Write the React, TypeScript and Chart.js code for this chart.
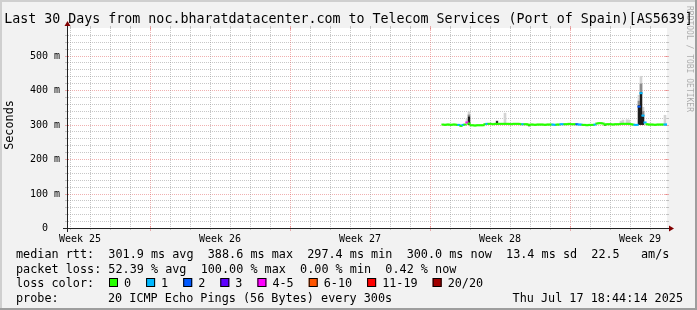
import React, { useEffect, useRef } from "react";
import { Chart, registerables } from "chart.js";

Chart.register(...registerables);

// ---------- text ----------
const chartTitle = "Last 30 Days from noc.bharatdatacenter.com to Telecom Services (Port of Spain)[AS5639]";
const yAxisTitle = "Seconds";
const watermark = "RRDTOOL / TOBI OETIKER";
const legendRttLine = "median rtt:  301.9 ms avg  388.6 ms max  297.4 ms min  300.0 ms now  13.4 ms sd  22.5   am/s";
const legendLossLine = "packet loss: 52.39 % avg  100.00 % max  0.00 % min  0.42 % now";
const legendLossTitle = "loss color:";
const probeLabel = "probe:";
const probeText = "20 ICMP Echo Pings (56 Bytes) every 300s";
const dateText = "Thu Jul 17 18:44:14 2025";

// ---------- axes ----------
const yTickValues = [0, 100, 200, 300, 400, 500];
const yMinorStep = 20;
const yMax = 580;
const xMaxDays = 30;
const weekLabels = ["Week 25", "Week 26", "Week 27", "Week 28", "Week 29"];
const weekLabelDays = [0.65, 7.65, 14.65, 21.65, 28.65];
const weekLineDays = [4.15, 11.15, 18.15, 25.15];
const dayLineDays = [
  0.15, 1.15, 2.15, 3.15, 5.15, 6.15, 7.15, 8.15, 9.15, 10.15, 12.15, 13.15, 14.15,
  15.15, 16.15, 17.15, 19.15, 20.15, 21.15, 22.15, 23.15, 24.15, 26.15, 27.15, 28.15, 29.15,
];

// ---------- loss legend ----------
const lossLegendLabels = ["0", "1", "2", "3", "4-5", "6-10", "11-19", "20/20"];
const lossLegendColors = ["#26ff00", "#00b8ff", "#0059ff", "#5e00ff", "#ff00ff", "#ff5500", "#ff0000", "#a00000"];

// ---------- series (ms) ----------
const sampleStartDay = 18.8;
const sampleStepDay = 0.1;
const medianMs = [
  300, 299, 300, 300, 299, 300, 300, 299,
  299, 296, 299, 300, 306, 303,
  298, 298, 297, 298, 298, 298, 298,
  301, 302, 302, 302, 301, 302,
  302, 302, 302, 302,
  302, 302, 302, 301, 302, 302, 302, 302, 301,
  301, 301, 301, 299,
  300, 300, 299, 300, 300, 300, 300, 299, 300, 300, 300,
  300, 299, 300, 300,
  301, 301, 301, 301, 302, 301, 301, 301,
  301, 300, 300,
  299, 299, 298, 299, 299, 299, 300,
  303, 304, 304, 303, 300,
  301, 301, 301, 300, 301, 301, 301,
  302, 302, 302, 302, 302, 301, 300,
  299, 299, 352, 391, 326, 306, 301,
  300, 300, 300, 299, 300, 300, 300, 300, 300, 300,
];
const lossCount = [
  0, 0, 0, 0, 0, 0, 0, 0,
  1, 0, 1, 0, 4, 0,
  0, 0, 0, 0, 0, 0, 0,
  0, 1, 0, 0, 0, 0,
  0, 0, 0, 0,
  0, 0, 0, 0, 0, 0, 0, 0, 0,
  1, 0, 0, 0,
  0, 0, 0, 0, 0, 0, 0, 0, 0, 0, 0,
  1, 1, 0, 0,
  1, 1, 0, 0, 0, 0, 0, 0,
  2, 1, 1,
  0, 0, 0, 0, 0, 0, 1,
  0, 0, 0, 0, 0,
  0, 0, 0, 0, 0, 0, 0,
  0, 0, 0, 0, 0, 0, 0,
  1, 1, 2, 1, 1, 1, 0,
  0, 0, 0, 0, 0, 0, 0, 0, 1, 1,
];

// smoke (spread of the 20 pings)
const lightSmokeDays = [20.0, 20.1, 21.5, 21.9, 27.7, 27.8, 28.0, 28.1, 28.6, 28.7, 28.8, 29.9];
const lightSmokeLow = [300, 300, 300, 300, 300, 300, 300, 300, 300, 300, 300, 300];
const lightSmokeHigh = [315, 337, 312, 333, 310, 313, 314, 313, 385, 440, 350, 327];
const midSmokeDays = [20.1, 28.6, 28.7, 28.8];
const midSmokeLow = [300, 300, 300, 300];
const midSmokeHigh = [328, 368, 418, 338];
const darkSmokeDays = [20.1, 21.5, 23.1, 26.9, 28.6, 28.7, 28.8];
const darkSmokeLow = [300, 300, 296, 298, 300, 300, 300];
const darkSmokeHigh = [322, 309, 300, 301, 355, 393, 322];

// ---------- styles ----------
const MONO = '"DejaVu Sans Mono", monospace';
const BACK = "#f2f2f2";
const GRID = "rgba(143,143,143,0.5)";
const MGRID = "rgba(222,79,79,0.45)";
const AXIS = "#212121";
const ARROW = "#800000";

function lossColor(n: number): string {
  if (n <= 0) return lossLegendColors[0];
  if (n === 1) return lossLegendColors[1];
  if (n === 2) return lossLegendColors[2];
  if (n === 3) return lossLegendColors[3];
  if (n <= 5) return lossLegendColors[4];
  if (n <= 10) return lossLegendColors[5];
  if (n <= 19) return lossLegendColors[6];
  return lossLegendColors[7];
}

const dayOf = (i: number) => Math.round((sampleStartDay + sampleStepDay * i) * 1000) / 1000;

const smokepingPlugin = {
  id: "smokeping",
  beforeDraw(chart: any) {
    const { ctx, width, height, chartArea: a } = chart;
    ctx.save();
    ctx.fillStyle = BACK;
    ctx.fillRect(0, 0, width, height);
    ctx.fillStyle = "#cfcfcf";
    ctx.fillRect(0, 0, width, 2);
    ctx.fillRect(0, 0, 2, height);
    ctx.fillStyle = "#9e9e9e";
    ctx.fillRect(0, height - 2, width, 2);
    ctx.fillRect(width - 2, 0, 2, height);
    ctx.fillStyle = "#ffffff";
    ctx.fillRect(a.left, a.top, a.right - a.left, a.bottom - a.top);
    ctx.restore();
  },
  beforeDatasetsDraw(chart: any) {
    const { ctx, chartArea: a } = chart;
    const xs = chart.scales.x;
    const ys = chart.scales.y;
    const line = (x1: number, y1: number, x2: number, y2: number, c: string, dash: number[]) => {
      ctx.strokeStyle = c;
      ctx.setLineDash(dash);
      ctx.beginPath();
      ctx.moveTo(x1, y1);
      ctx.lineTo(x2, y2);
      ctx.stroke();
    };
    ctx.save();
    ctx.lineWidth = 1;
    for (let v = yMinorStep; v < yMax; v += yMinorStep) {
      if (yTickValues.includes(v)) continue;
      const py = Math.round(ys.getPixelForValue(v)) + 0.5;
      line(a.left - 2, py, a.left, py, GRID, []);
      line(a.right, py, a.right + 2, py, GRID, []);
      line(a.left + 1, py, a.right, py, GRID, [1, 1]);
    }
    for (const v of yTickValues) {
      if (v === 0) continue;
      const py = Math.round(ys.getPixelForValue(v)) + 0.5;
      line(a.left - 2, py, a.left + 2, py, MGRID, []);
      line(a.right - 2, py, a.right + 2, py, MGRID, []);
      line(a.left + 1, py, a.right, py, MGRID, [1, 1]);
    }
    for (const d of dayLineDays) {
      const px = Math.round(xs.getPixelForValue(d)) + 0.5;
      line(px, a.top - 2, px, a.top, GRID, []);
      line(px, a.bottom, px, a.bottom + 2, GRID, []);
      line(px, a.top, px, a.bottom, GRID, [1, 1]);
    }
    for (const d of weekLineDays) {
      const px = Math.round(xs.getPixelForValue(d)) + 0.5;
      line(px, a.top - 2, px, a.top + 2, MGRID, []);
      line(px, a.bottom - 2, px, a.bottom + 3, MGRID, []);
      line(px, a.top, px, a.bottom, MGRID, [1, 1]);
    }
    ctx.restore();
  },
  afterDatasetsDraw(chart: any) {
    const { ctx, width, chartArea: a } = chart;
    const xs = chart.scales.x;
    const ys = chart.scales.y;
    const L = a.left + 0.5;
    const B = a.bottom + 0.5;
    ctx.save();
    ctx.setLineDash([]);
    ctx.lineWidth = 1;
    ctx.strokeStyle = AXIS;
    ctx.beginPath();
    ctx.moveTo(a.left - 4, B);
    ctx.lineTo(a.right + 4, B);
    ctx.moveTo(L, a.bottom + 4);
    ctx.lineTo(L, a.top - 4);
    ctx.stroke();
    ctx.fillStyle = ARROW;
    ctx.beginPath();
    ctx.moveTo(a.right + 2, B - 3);
    ctx.lineTo(a.right + 2, B + 3);
    ctx.lineTo(a.right + 7, B);
    ctx.closePath();
    ctx.fill();
    ctx.beginPath();
    ctx.moveTo(L - 3, a.top - 2);
    ctx.lineTo(L + 3, a.top - 2);
    ctx.lineTo(L, a.top - 7);
    ctx.closePath();
    ctx.fill();

    ctx.fillStyle = "#000";
    ctx.font = `10px ${MONO}`;
    ctx.textAlign = "right";
    ctx.textBaseline = "middle";
    for (const v of yTickValues) {
      const label = v === 0 ? "0  " : `${v} m`;
      ctx.fillText(label, a.left - 7, ys.getPixelForValue(v) + 0.5);
    }
    ctx.textAlign = "center";
    ctx.textBaseline = "alphabetic";
    weekLabels.forEach((t, i) => {
      ctx.fillText(t, xs.getPixelForValue(weekLabelDays[i]), a.bottom + 14);
    });

    ctx.font = `13.3px ${MONO}`;
    ctx.textAlign = "center";
    ctx.fillText(chartTitle, width / 2, 23);

    ctx.save();
    ctx.font = `11.8px ${MONO}`;
    ctx.translate(10, (a.top + a.bottom) / 2 - 3);
    ctx.rotate(-Math.PI / 2);
    ctx.textAlign = "center";
    ctx.textBaseline = "middle";
    ctx.fillText(yAxisTitle, 0, 0);
    ctx.restore();

    ctx.save();
    ctx.font = `8px ${MONO}`;
    ctx.fillStyle = "rgba(0,0,0,0.3)";
    ctx.translate(width - 4, 6);
    ctx.rotate(Math.PI / 2);
    ctx.textAlign = "left";
    ctx.textBaseline = "top";
    ctx.fillText(watermark, 0, 0);
    ctx.restore();

    ctx.font = `11.8px ${MONO}`;
    ctx.fillStyle = "#000";
    ctx.textAlign = "left";
    ctx.textBaseline = "alphabetic";
    const lx = 16;
    ctx.fillText(legendRttLine, lx, 258);
    ctx.fillText(legendLossLine, lx, 272.5);
    ctx.fillText(legendLossTitle, lx, 287);
    let bx = 109;
    lossLegendLabels.forEach((t, i) => {
      ctx.fillStyle = lossLegendColors[i];
      ctx.fillRect(bx, 278, 9, 9);
      ctx.strokeStyle = "#000";
      ctx.strokeRect(bx + 0.5, 278.5, 8, 8);
      ctx.fillStyle = "#000";
      ctx.fillText(t, bx + 15, 287);
      bx = bx + 15 + ctx.measureText(t).width + 15;
    });
    ctx.fillText(probeLabel, lx, 301.5);
    ctx.fillText(probeText, 108, 301.5);
    ctx.textAlign = "right";
    ctx.fillText(dateText, 683, 301.5);
    ctx.restore();
  },
};

export default function App() {
  const ref = useRef<HTMLCanvasElement>(null);
  useEffect(() => {
    document.body.style.margin = "0";
    const medianPoints = medianMs.map((v, i) => ({ x: dayOf(i), y: v }));
    const bars = (days: number[], lo: number[], hi: number[]) =>
      days.map((d, i) => ({ x: d, y: [lo[i], hi[i]] }));
    const chart = new Chart(ref.current as HTMLCanvasElement, {
      type: "line",
      data: {
        datasets: [
          {
            type: "line",
            data: medianPoints as any,
            showLine: false,
            pointStyle: "line",
            pointRadius: 1.6,
            pointBorderWidth: 2,
            pointBorderColor: (c: any) => lossColor(lossCount[c.dataIndex]),
            pointBackgroundColor: (c: any) => lossColor(lossCount[c.dataIndex]),
            order: 0,
          } as any,
          {
            type: "bar",
            data: bars(darkSmokeDays, darkSmokeLow, darkSmokeHigh) as any,
            backgroundColor: "#1c1c1c",
            barThickness: 1.5,
            grouped: false,
            order: 1,
          } as any,
          {
            type: "bar",
            data: bars(midSmokeDays, midSmokeLow, midSmokeHigh) as any,
            backgroundColor: "#8c8c8c",
            barThickness: 2,
            grouped: false,
            order: 2,
          } as any,
          {
            type: "bar",
            data: bars(lightSmokeDays, lightSmokeLow, lightSmokeHigh) as any,
            backgroundColor: "#d4d4d4",
            barThickness: 2,
            grouped: false,
            order: 3,
          } as any,
        ],
      },
      options: {
        animation: false,
        responsive: false,
        maintainAspectRatio: false,
        devicePixelRatio: 1,
        events: [],
        layout: { padding: { left: 67, top: 28, right: 30, bottom: 82 } },
        plugins: { legend: { display: false }, tooltip: { enabled: false }, title: { display: false } },
        scales: {
          x: { type: "linear", min: 0, max: xMaxDays, display: false, offset: false },
          y: { type: "linear", min: 0, max: yMax, display: false },
        },
      } as any,
      plugins: [smokepingPlugin as any],
    });
    return () => chart.destroy();
  }, []);
  return <canvas ref={ref} width={697} height={310} style={{ display: "block", width: 697, height: 310 }} />;
}
